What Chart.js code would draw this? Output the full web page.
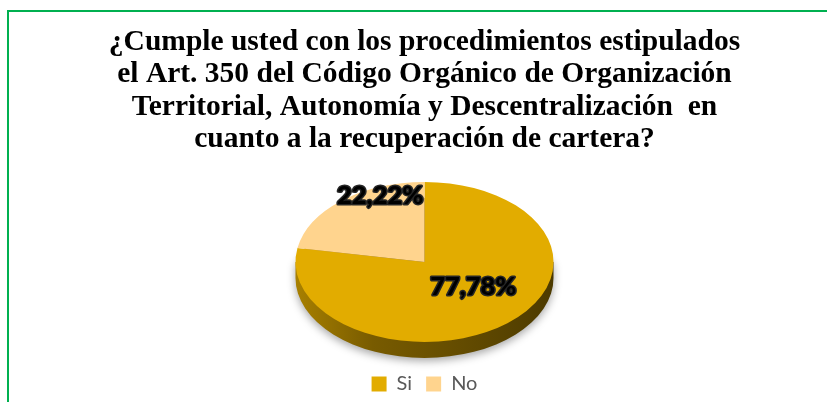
<!DOCTYPE html>
<html lang="es">
<head>
  <meta charset="UTF-8">
  <title>Cumplimiento Art. 350 COOTAD</title>
  <script src="https://cdn.jsdelivr.net/npm/chart.js"></script>
  <style>
    body {
      margin: 0;
      background: #ffffff;
      overflow: hidden;
    }
    .wrap {
      position: relative;
      width: 827px;
      height: 402px;
      overflow: hidden;
    }
    .marco {
      position: absolute;
      left: 7px;
      top: 10px;
      width: 880px;
      height: 460px;
      border: 2px solid #00B050;
      pointer-events: none;
    }
  </style>
</head>
<body>
  <div class="wrap">
    <canvas id="grafico" width="827" height="402"></canvas>
    <div class="marco"></div>
  </div>

  <script>
    // datos
    const categorias = ['Si', 'No'];
    const porcentajes = [77.78, 22.22];
    const colores = ['#E2AC00', '#FFD48E'];
    const titulo = [
      '¿Cumple usted con los procedimientos estipulados',
      'el Art. 350 del Código Orgánico de Organización',
      'Territorial, Autonomía y Descentralización  en',
      'cuanto a la recuperación de cartera?'
    ];

    function formato(v) {
      return v.toFixed(2).replace('.', ',') + '%';
    }

    // pastel inclinado con canto (efecto 3D de Excel)
    const pastel3d = {
      id: 'pastel3d',
      beforeDatasetsDraw(chart, args, opts) {
        const ctx = chart.ctx;
        const arc = chart.getDatasetMeta(0).data[0];
        const { x, y, outerRadius } = arc.getProps(['x', 'y', 'outerRadius'], true);
        const ry = outerRadius * opts.inclinacion;

        ctx.save();
        const grad = ctx.createLinearGradient(x - outerRadius, 0, x + outerRadius, 0);
        grad.addColorStop(0, '#A88000');
        grad.addColorStop(0.3, '#785B00');
        grad.addColorStop(0.7, '#604900');
        grad.addColorStop(1, '#4C3A00');
        ctx.fillStyle = grad;
        ctx.shadowColor = 'rgba(0,0,0,0.35)';
        ctx.shadowBlur = 8;
        ctx.shadowOffsetY = 3;
        ctx.beginPath();
        ctx.ellipse(x, y + opts.grosor, outerRadius, ry, 0, 0, Math.PI * 2);
        ctx.rect(x - outerRadius, y, outerRadius * 2, opts.grosor);
        ctx.fill();
        ctx.restore();

        // cara superior aplastada
        ctx.save();
        ctx.translate(x, y);
        ctx.scale(1, opts.inclinacion);
        ctx.translate(-x, -y);
      },
      afterDatasetsDraw(chart, args, opts) {
        const ctx = chart.ctx;
        ctx.restore();

        const arcs = chart.getDatasetMeta(0).data;
        const valores = chart.data.datasets[0].data;
        ctx.save();
        ctx.font = '900 25.5px Lato';
        ctx.textAlign = 'center';
        ctx.textBaseline = 'middle';
        ctx.lineJoin = 'round';
        arcs.forEach((arc, i) => {
          const p = arc.getProps(['x', 'y', 'startAngle', 'endAngle', 'outerRadius'], true);
          const medio = (p.startAngle + p.endAngle) / 2;
          const r = p.outerRadius * opts.radioEtiqueta[i];
          const lx = p.x + Math.cos(medio) * r + opts.ajuste[i][0];
          const ly = p.y + Math.sin(medio) * r * opts.inclinacion + opts.ajuste[i][1];
          const txt = formato(valores[i]);
          ctx.strokeStyle = '#262626';
          ctx.lineWidth = 3;
          ctx.strokeText(txt, lx, ly);
          ctx.fillStyle = '#000000';
          ctx.fillText(txt, lx, ly);
        });
        ctx.restore();
      }
    };

    new Chart(document.getElementById('grafico'), {
      type: 'pie',
      data: {
        labels: categorias,
        datasets: [{
          data: porcentajes,
          backgroundColor: colores,
          borderWidth: 0,
          radius: 129,
          clip: false
        }]
      },
      options: {
        responsive: false,
        animation: false,
        events: [],
        layout: {
          padding: { left: 22, right: 0, top: 0, bottom: -2 }
        },
        plugins: {
          title: {
            display: true,
            text: titulo,
            color: '#000000',
            font: { family: 'Liberation Serif', size: 29.5, weight: 'bold', lineHeight: 1.1 },
            padding: { top: 26, bottom: 8 }
          },
          legend: {
            position: 'bottom',
            labels: {
              boxWidth: 15,
              boxHeight: 15,
              padding: 14,
              color: '#595959',
              font: { family: 'Lato', size: 20 }
            }
          },
          tooltip: { enabled: false },
          pastel3d: {
            inclinacion: 0.62,
            grosor: 16,
            radioEtiqueta: [0.54, 0.8],
            ajuste: [[4, -8], [22, -17]]
          }
        }
      },
      plugins: [pastel3d]
    });
  </script>
</body>
</html>
